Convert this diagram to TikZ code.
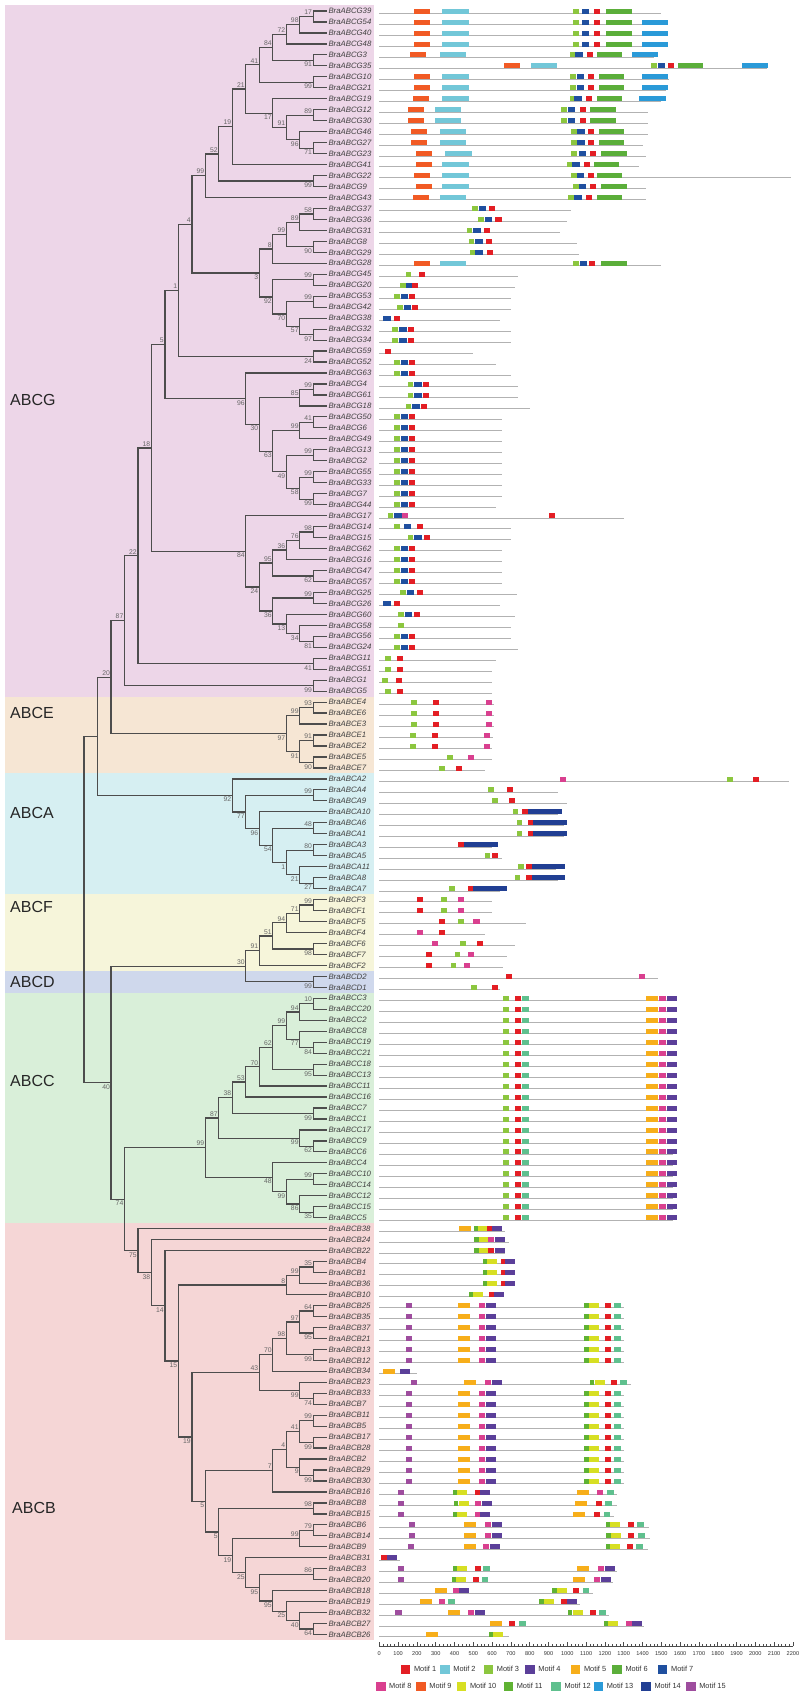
\documentclass[tikz,border=0pt]{standalone}
\usepackage{fontspec}
\setmainfont{Liberation Sans}
\usetikzlibrary{calc}
\definecolor{c1}{HTML}{E31E24}
\definecolor{c2}{HTML}{72C7D8}
\definecolor{c3}{HTML}{8CC63F}
\definecolor{c4}{HTML}{5B3F99}
\definecolor{c5}{HTML}{F7AE1A}
\definecolor{c6}{HTML}{5BAE3A}
\definecolor{c7}{HTML}{1F4F9F}
\definecolor{c8}{HTML}{D9408F}
\definecolor{c9}{HTML}{F15A24}
\definecolor{c10}{HTML}{D7DF23}
\definecolor{c11}{HTML}{5FB233}
\definecolor{c12}{HTML}{5FC08E}
\definecolor{c13}{HTML}{2A9AD8}
\definecolor{c14}{HTML}{213F93}
\definecolor{c15}{HTML}{9E4D9E}
\definecolor{bG}{HTML}{EDD6E8}
\definecolor{bE}{HTML}{F6E6D4}
\definecolor{bA}{HTML}{D6EFF2}
\definecolor{bF}{HTML}{F6F5DA}
\definecolor{bD}{HTML}{CFD8EC}
\definecolor{bC}{HTML}{D9EFD9}
\definecolor{bB}{HTML}{F5D6D6}
\definecolor{brc}{HTML}{4D4D4D}
\definecolor{bsc}{HTML}{666666}
\def\LX{326.7}
\def\ST{13.48}
\def\MX{379.3}
\def\K{0.188}
\expandafter\def\csname w1\endcsname{32}
\expandafter\def\csname w2\endcsname{140}
\expandafter\def\csname w3\endcsname{30}
\expandafter\def\csname w4\endcsname{53}
\expandafter\def\csname w5\endcsname{64}
\expandafter\def\csname w6\endcsname{135}
\expandafter\def\csname w7\endcsname{40}
\expandafter\def\csname w8\endcsname{33}
\expandafter\def\csname w9\endcsname{85}
\expandafter\def\csname w10\endcsname{53}
\expandafter\def\csname w11\endcsname{24}
\expandafter\def\csname w12\endcsname{35}
\expandafter\def\csname w13\endcsname{140}
\expandafter\def\csname w14\endcsname{180}
\expandafter\def\csname w15\endcsname{33}
\tikzset{
  declare function={ry(\i)=11+10.97*\i;},
  br/.style={draw=brc,line width=1.2pt},
  bsa/.style={anchor=south east,inner sep=0pt,xshift=-1pt,yshift=1.6pt,font=\fontsize{6.8}{7}\selectfont,text=bsc},
  bsb/.style={anchor=north east,inner sep=0pt,xshift=-1pt,yshift=-1.6pt,font=\fontsize{6.8}{7}\selectfont,text=bsc},
  leaf/.style={anchor=west,inner sep=0pt,font=\fontsize{7.8}{8}\selectfont\itshape,text=black!75},
  grp/.style={anchor=west,inner sep=0pt,font=\fontsize{16}{18}\selectfont,text=black!85},
  mline/.style={draw=black!30,line width=1pt},
  lg/.style={anchor=west,inner sep=0pt,font=\fontsize{7.4}{8}\selectfont,text=black!80},
  ax/.style={inner sep=0pt,font=\fontsize{5.6}{6}\selectfont,text=black!80},
}
\newcommand\brn[6]{%
  \path let \p1=(#3), \p2=(#4) in coordinate (#1) at ({(\LX-#2*\ST)*1pt},{0.5*\y1+0.5*\y2});
  \draw[br] (#3) -| (#1) |- (#4);
  \node[#6] (#1l) at (#1) {#5};
}
\newcommand\mrow[3]{%
  \draw[mline] (\MX,{ry(#1)+2.4}) -- ++({#2*\K},0);
  \foreach \m/\s in {#3}{\fill[fill=c\m] ({\MX+\s*\K},{ry(#1)-2.4}) rectangle ++({\csname w\m\endcsname*\K},5);}
}
\begin{document}
\begin{tikzpicture}[x=1pt,y=-1pt]
\useasboundingbox (0,0) rectangle (804,1696);
\fill[white] (0,0) rectangle (804,1696);
% bands
\fill[bG] (5,5) rectangle (374,696.6);
\fill[bE] (5,696.6) rectangle (374,773.4);
\fill[bA] (5,773.4) rectangle (374,894.1);
\fill[bF] (5,894.1) rectangle (374,970.9);
\fill[bD] (5,970.9) rectangle (374,992.8);
\fill[bC] (5,992.8) rectangle (374,1223.2);
\fill[bB] (5,1223.2) rectangle (374,1640);
\node[grp] (gG) at (10,400) {ABCG};
\node[grp] (gE) at (10,713) {ABCE};
\node[grp] (gA) at (10,813) {ABCA};
\node[grp] (gF) at (10,907) {ABCF};
\node[grp] (gD) at (10,982) {ABCD};
\node[grp] (gC) at (10,1081) {ABCC};
\node[grp] (gB) at (12,1508) {ABCB};
% leaves
\foreach \i in {0,...,148} \coordinate (L\i) at (\LX,{ry(\i)});
\foreach \i/\t in {0/G39,1/G54,2/G40,3/G48,4/G3,5/G35,6/G10,7/G21,8/G19,9/G12,10/G30,11/G46,12/G27,13/G23,14/G41,15/G22,16/G9,17/G43,18/G37,19/G36,20/G31,21/G8,22/G29,23/G28,24/G45,25/G20,26/G53,27/G42,28/G38,29/G32,30/G34,31/G59,32/G52,33/G63,34/G4,35/G61,36/G18,37/G50,38/G6,39/G49,40/G13,41/G2,42/G55,43/G33,44/G7,45/G44,46/G17,47/G14,48/G15,49/G62,50/G16,51/G47,52/G57,53/G25,54/G26,55/G60,56/G58,57/G56,58/G24,59/G11,60/G51,61/G1,62/G5,63/E4,64/E6,65/E3,66/E1,67/E2,68/E5,69/E7,70/A2,71/A4,72/A9,73/A10,74/A6,75/A1,76/A3,77/A5,78/A11,79/A8,80/A7,81/F3,82/F1,83/F5,84/F4,85/F6,86/F7,87/F2,88/D2,89/D1,90/C3,91/C20,92/C2,93/C8,94/C19,95/C21,96/C18,97/C13,98/C11,99/C16,100/C7,101/C1,102/C17,103/C9,104/C6,105/C4,106/C10,107/C14,108/C12,109/C15,110/C5,111/B38,112/B24,113/B22,114/B4,115/B1,116/B36,117/B10,118/B25,119/B35,120/B37,121/B21,122/B13,123/B12,124/B34,125/B23,126/B33,127/B7,128/B11,129/B5,130/B17,131/B28,132/B2,133/B29,134/B30,135/B16,136/B8,137/B15,138/B6,139/B14,140/B9,141/B31,142/B3,143/B20,144/B18,145/B19,146/B32,147/B27,148/B26}
  \node[leaf] (T\i) at (328.3,{ry(\i)}) {BraABC\t};
% ABCG tree
\brn{g1}{1}{L0}{L1}{17}{bsa}
\brn{g2}{2}{g1}{L2}{98}{bsa}
\brn{g3}{3}{g2}{L3}{72}{bsa}
\brn{g4}{1}{L4}{L5}{91}{bsb}
\brn{g5}{4}{g3}{g4}{84}{bsa}
\brn{g6}{1}{L6}{L7}{99}{bsb}
\brn{g7}{5}{g5}{g6}{41}{bsa}
\brn{g8}{1}{L9}{L10}{89}{bsa}
\brn{g9}{1}{L12}{L13}{71}{bsb}
\brn{g10}{2}{L11}{g9}{96}{bsb}
\brn{g11}{3}{g8}{g10}{91}{bsa}
\brn{g12}{4}{L8}{g11}{17}{bsb}
\brn{g13}{6}{g7}{g12}{21}{bsa}
\brn{g14}{7}{g13}{L14}{19}{bsa}
\brn{g15}{1}{L15}{L16}{99}{bsb}
\brn{g16}{8}{g14}{g15}{52}{bsa}
\brn{g17}{9}{g16}{L17}{99}{bsa}
\brn{g18}{1}{L18}{L19}{58}{bsa}
\brn{g19}{2}{g18}{L20}{89}{bsa}
\brn{g20}{1}{L21}{L22}{90}{bsb}
\brn{g21}{3}{g19}{g20}{99}{bsa}
\brn{g22}{4}{g21}{L23}{8}{bsa}
\brn{g23}{1}{L24}{L25}{99}{bsa}
\brn{g24}{1}{L26}{L27}{99}{bsa}
\brn{g25}{1}{L29}{L30}{97}{bsb}
\brn{g26}{2}{L28}{g25}{57}{bsb}
\brn{g27}{3}{g24}{g26}{70}{bsb}
\brn{g28}{4}{g23}{g27}{92}{bsb}
\brn{g29}{5}{g22}{g28}{3}{bsb}
\brn{g30}{10}{g17}{g29}{4}{bsa}
\brn{g31}{1}{L31}{L32}{24}{bsb}
\brn{g32}{11}{g30}{g31}{1}{bsa}
\brn{g33}{1}{L34}{L35}{99}{bsa}
\brn{g34}{2}{g33}{L36}{85}{bsa}
\brn{g35}{1}{L37}{L38}{41}{bsa}
\brn{g36}{2}{g35}{L39}{99}{bsa}
\brn{g37}{1}{L40}{L41}{99}{bsa}
\brn{g38}{1}{L42}{L43}{99}{bsa}
\brn{g39}{1}{L44}{L45}{99}{bsb}
\brn{g40}{2}{g38}{g39}{58}{bsb}
\brn{g41}{3}{g37}{g40}{49}{bsb}
\brn{g42}{4}{g36}{g41}{63}{bsb}
\brn{g43}{5}{g34}{g42}{30}{bsb}
\brn{g44}{6}{L33}{g43}{96}{bsb}
\brn{g45}{12}{g32}{g44}{5}{bsa}
\brn{g46}{1}{L47}{L48}{98}{bsa}
\brn{g47}{2}{g46}{L49}{76}{bsa}
\brn{g48}{3}{g47}{L50}{36}{bsa}
\brn{g49}{1}{L51}{L52}{62}{bsb}
\brn{g50}{4}{g48}{g49}{95}{bsa}
\brn{g51}{1}{L53}{L54}{99}{bsa}
\brn{g52}{1}{L57}{L58}{81}{bsb}
\brn{g53}{2}{L56}{g52}{34}{bsb}
\brn{g54}{3}{L55}{g53}{13}{bsb}
\brn{g55}{4}{g51}{g54}{36}{bsb}
\brn{g56}{5}{g50}{g55}{24}{bsb}
\brn{g57}{6}{L46}{g56}{84}{bsb}
\brn{g58}{13}{g45}{g57}{18}{bsa}
\brn{g59}{1}{L59}{L60}{41}{bsb}
\brn{g60}{14}{g58}{g59}{22}{bsa}
\brn{g61}{1}{L61}{L62}{99}{bsb}
\brn{g62}{15}{g60}{g61}{87}{bsa}
% ABCE
\brn{e1}{1}{L63}{L64}{93}{bsa}
\brn{e2}{2}{e1}{L65}{99}{bsa}
\brn{e3}{1}{L66}{L67}{91}{bsa}
\brn{e4}{1}{L68}{L69}{90}{bsb}
\brn{e5}{2}{e3}{e4}{91}{bsb}
\brn{e6}{3}{e2}{e5}{97}{bsb}
\brn{g63}{16}{g62}{e6}{20}{bsa}
% ABCA
\brn{a1}{1}{L71}{L72}{99}{bsa}
\brn{a2}{1}{L74}{L75}{48}{bsa}
\brn{a3}{1}{L76}{L77}{80}{bsa}
\brn{a4}{1}{L79}{L80}{27}{bsb}
\brn{a5}{2}{L78}{a4}{21}{bsb}
\brn{a6}{3}{a3}{a5}{1}{bsb}
\brn{a7}{4}{a2}{a6}{54}{bsb}
\brn{a8}{5}{L73}{a7}{96}{bsb}
\brn{a9}{6}{a1}{a8}{77}{bsb}
\brn{a10}{7}{L70}{a9}{92}{bsb}
\brn{r2}{17}{g63}{a10}{}{bsa}
% ABCF / ABCD
\brn{f1}{1}{L81}{L82}{99}{bsa}
\brn{f2}{2}{f1}{L83}{71}{bsa}
\brn{f3}{3}{f2}{L84}{94}{bsa}
\brn{f4}{1}{L85}{L86}{98}{bsb}
\brn{f5}{4}{f3}{f4}{51}{bsa}
\brn{f6}{5}{f5}{L87}{91}{bsa}
\brn{d1}{1}{L88}{L89}{99}{bsb}
\brn{f7}{6}{f6}{d1}{30}{bsa}
% ABCC
\brn{c1}{1}{L90}{L91}{10}{bsa}
\brn{c2}{2}{c1}{L92}{94}{bsa}
\brn{c3}{1}{L94}{L95}{84}{bsb}
\brn{c4}{2}{L93}{c3}{77}{bsb}
\brn{c5}{3}{c2}{c4}{99}{bsa}
\brn{c6}{1}{L96}{L97}{95}{bsb}
\brn{c7}{4}{c5}{c6}{62}{bsa}
\brn{c8}{5}{c7}{L98}{70}{bsa}
\brn{c9}{6}{c8}{L99}{53}{bsa}
\brn{c10}{1}{L100}{L101}{99}{bsb}
\brn{c11}{7}{c9}{c10}{38}{bsa}
\brn{c12}{1}{L103}{L104}{62}{bsb}
\brn{c13}{2}{L102}{c12}{99}{bsb}
\brn{c14}{8}{c11}{c13}{87}{bsa}
\brn{c15}{1}{L106}{L107}{99}{bsa}
\brn{c16}{1}{L109}{L110}{35}{bsb}
\brn{c17}{2}{L108}{c16}{86}{bsb}
\brn{c18}{3}{c15}{c17}{99}{bsb}
\brn{c19}{4}{L105}{c18}{48}{bsb}
\brn{c20}{9}{c14}{c19}{99}{bsa}
% ABCB
\brn{b1}{1}{L114}{L115}{35}{bsa}
\brn{b2}{2}{b1}{L116}{99}{bsa}
\brn{b3}{3}{b2}{L117}{8}{bsa}
\brn{b4}{1}{L118}{L119}{64}{bsa}
\brn{b5}{1}{L120}{L121}{95}{bsb}
\brn{b6}{2}{b4}{b5}{97}{bsa}
\brn{b7}{1}{L122}{L123}{99}{bsb}
\brn{b8}{3}{b6}{b7}{98}{bsa}
\brn{b9}{4}{b8}{L124}{70}{bsa}
\brn{b10}{1}{L126}{L127}{74}{bsb}
\brn{b11}{2}{L125}{b10}{99}{bsb}
\brn{b12}{5}{b9}{b11}{43}{bsa}
\brn{b13}{1}{L128}{L129}{99}{bsa}
\brn{b14}{1}{L130}{L131}{99}{bsb}
\brn{b15}{2}{b13}{b14}{41}{bsa}
\brn{b16}{1}{L133}{L134}{99}{bsb}
\brn{b17}{2}{L132}{b16}{9}{bsb}
\brn{b18}{3}{b15}{b17}{4}{bsa}
\brn{b19}{4}{b18}{L135}{7}{bsa}
\brn{y1}{1}{L136}{L137}{98}{bsa}
\brn{y2}{1}{L138}{L139}{79}{bsa}
\brn{y3}{2}{y2}{L140}{99}{bsa}
\brn{y4}{1}{L142}{L143}{86}{bsa}
\brn{y5}{1}{L147}{L148}{64}{bsb}
\brn{y6}{2}{L146}{y5}{40}{bsb}
\brn{y7}{3}{L145}{y6}{25}{bsb}
\brn{y8}{4}{L144}{y7}{95}{bsb}
\brn{y9}{5}{y4}{y8}{95}{bsb}
\brn{y10}{6}{L141}{y9}{25}{bsb}
\brn{y11}{7}{y3}{y10}{19}{bsb}
\brn{yy}{8}{y1}{y11}{5}{bsb}
\brn{bx}{9}{b19}{yy}{5}{bsb}
\brn{n19}{10}{b12}{bx}{19}{bsb}
\brn{n15}{11}{b3}{n19}{15}{bsb}
\brn{n14}{12}{L113}{n15}{14}{bsb}
\brn{n38}{13}{L112}{n14}{38}{bsb}
\brn{n75}{14}{L111}{n38}{75}{bsb}
\brn{n74}{15}{c20}{n75}{74}{bsb}
\brn{n40}{16}{f7}{n74}{40}{bsb}
\brn{root}{18}{r2}{n40}{}{bsa}
% motifs
\mrow{0}{1500}{9/187,2/335,3/1032,7/1077,1/1140,6/1208}
\mrow{1}{1525}{9/187,2/335,3/1032,7/1077,1/1140,6/1208,13/1395}
\mrow{2}{1525}{9/187,2/335,3/1032,7/1077,1/1140,6/1208,13/1395}
\mrow{3}{1525}{9/187,2/335,3/1032,7/1077,1/1140,6/1208,13/1395}
\mrow{4}{1460}{9/165,2/323,3/1015,7/1043,1/1105,6/1157,13/1345}
\mrow{5}{2060}{9/663,2/805,3/1446,7/1480,1/1536,6/1588,13/1928}
\mrow{6}{1540}{9/187,2/335,3/1015,7/1049,1/1110,6/1168,13/1395}
\mrow{7}{1525}{9/187,2/335,3/1015,7/1049,1/1110,6/1168,13/1395}
\mrow{8}{1500}{9/180,2/335,3/1015,7/1037,1/1100,6/1157,13/1383}
\mrow{9}{1430}{9/153,2/295,3/969,7/1003,1/1066,6/1123}
\mrow{10}{1430}{9/153,2/295,3/969,7/1003,1/1066,6/1123}
\mrow{11}{1430}{9/170,2/323,3/1020,7/1054,1/1110,6/1168}
\mrow{12}{1400}{9/170,2/323,3/1020,7/1054,1/1110,6/1168}
\mrow{13}{1420}{9/193,2/352,3/1020,7/1060,1/1123,6/1180}
\mrow{14}{1380}{9/193,2/335,3/998,7/1026,1/1089,6/1140}
\mrow{15}{2190}{9/187,2/335,3/1020,7/1049,1/1110,6/1157}
\mrow{16}{1420}{9/193,2/335,3/1032,7/1060,1/1123,6/1180}
\mrow{17}{1420}{9/180,2/323,3/1003,7/1037,1/1100,6/1157}
\mrow{18}{1020}{3/493,7/528,1/585}
\mrow{19}{1000}{3/527,7/561,1/618}
\mrow{20}{960}{3/465,7/499,1/556}
\mrow{21}{1050}{3/476,7/510,1/567}
\mrow{22}{1060}{3/482,7/510,1/573}
\mrow{23}{1500}{9/187,2/323,3/1032,7/1066,1/1115,6/1180}
\mrow{24}{740}{3/140,1/210}
\mrow{25}{720}{3/110,7/140,1/175}
\mrow{26}{700}{3/80,7/115,1/160}
\mrow{27}{700}{3/95,7/130,1/175}
\mrow{28}{640}{7/20,1/80}
\mrow{29}{700}{3/70,7/105,1/150}
\mrow{30}{700}{3/70,7/105,1/150}
\mrow{31}{500}{1/30}
\mrow{32}{620}{3/80,7/115,1/160}
\mrow{33}{700}{3/80,7/115,1/160}
\mrow{34}{740}{3/150,7/185,1/230}
\mrow{35}{740}{3/150,7/185,1/230}
\mrow{36}{800}{3/140,7/175,1/220}
\foreach \r in {37,...,44}{\mrow{\r}{650}{3/80,7/115,1/160}}
\mrow{45}{620}{3/80,7/115,1/160}
\mrow{46}{1300}{3/45,7/79,8/119,1/900}
\mrow{47}{700}{3/80,7/130,1/200}
\mrow{48}{700}{3/150,7/185,1/240}
\foreach \r in {49,...,52}{\mrow{\r}{650}{3/80,7/115,1/160}}
\mrow{53}{730}{3/110,7/145,1/200}
\mrow{54}{640}{7/20,1/80}
\mrow{55}{720}{3/100,7/135,1/185}
\mrow{56}{700}{3/100}
\mrow{57}{700}{3/80,7/115,1/160}
\mrow{58}{740}{3/80,7/115,1/160}
\mrow{59}{620}{3/30,1/95}
\mrow{60}{600}{3/30,1/95}
\mrow{61}{600}{3/15,1/90}
\mrow{62}{600}{3/30,1/95}
\foreach \r in {63,...,65}{\mrow{\r}{610}{3/170,1/283,8/567}}
\mrow{66}{605}{3/164,1/278,8/556}
\mrow{67}{600}{3/164,1/278,8/556}
\mrow{68}{600}{3/360,8/470}
\mrow{69}{560}{3/320,1/410}
\mrow{70}{2180}{8/960,3/1850,1/1990}
\mrow{71}{950}{3/580,1/680}
\mrow{72}{1000}{3/600,1/690}
\mrow{73}{950}{3/710,1/760,14/790}
\mrow{74}{980}{3/730,1/790,14/820}
\mrow{75}{980}{3/730,1/790,14/820}
\mrow{76}{600}{1/420,14/450}
\mrow{77}{650}{3/560,1/600}
\mrow{78}{940}{3/740,1/780,14/810}
\mrow{79}{950}{3/720,1/780,14/810}
\mrow{80}{640}{3/370,1/470,14/500}
\mrow{81}{600}{1/200,3/330,8/420}
\mrow{82}{600}{1/200,3/330,8/420}
\mrow{83}{780}{1/320,3/420,8/500}
\mrow{84}{560}{8/200,1/320}
\mrow{85}{720}{8/280,3/430,1/520}
\mrow{86}{680}{1/250,3/400,8/470}
\mrow{87}{660}{1/250,3/380,8/450}
\mrow{88}{1480}{1/675,8/1380}
\mrow{89}{640}{3/490,1/600}
\foreach \r in {90,...,110}{\mrow{\r}{1560}{3/660,1/720,12/760,5/1420,8/1490,4/1530}}
\mrow{111}{669}{5/425,11/505,10/527,1/575,4/600}
\mrow{112}{692}{11/505,10/530,8/577,4/618}
\mrow{113}{669}{11/505,10/530,1/580,4/615}
\mrow{114}{720}{11/550,10/575,1/646,4/669}
\mrow{115}{720}{11/550,10/575,1/646,4/669}
\mrow{116}{720}{11/550,10/575,1/646,4/669}
\mrow{117}{646}{11/476,10/500,1/584,4/610}
\foreach \r in {118,...,123}{\mrow{\r}{1300}{15/140,5/420,8/530,4/570,11/1090,10/1115,1/1200,12/1250}}
\mrow{124}{200}{5/20,4/110}
\mrow{125}{1340}{15/170,5/450,8/560,4/600,11/1120,10/1145,1/1230,12/1280}
\foreach \r in {126,...,134}{\mrow{\r}{1300}{15/140,5/420,8/530,4/570,11/1090,10/1115,1/1200,12/1250}}
\mrow{135}{1266}{15/97,11/392,10/414,1/507,4/538,5/1052,8/1158,12/1213}
\mrow{136}{1266}{15/101,11/397,10/423,8/507,4/545,5/1043,1/1153,12/1202}
\mrow{137}{1248}{15/101,11/392,10/414,8/507,4/538,5/1032,1/1142,12/1193}
\mrow{138}{1433}{15/157,5/452,8/562,4/600,11/1204,10/1228,1/1321,12/1372}
\mrow{139}{1438}{15/157,5/452,8/562,4/600,11/1208,10/1235,1/1325,12/1376}
\mrow{140}{1427}{15/150,5/448,8/553,4/589,11/1204,10/1228,1/1316,12/1367}
\mrow{141}{110}{1/11,4/42}
\mrow{142}{1266}{15/97,11/392,10/414,1/507,12/553,5/1052,8/1164,4/1200}
\mrow{143}{1241}{15/97,11/386,10/408,1/498,12/545,5/1032,8/1142,4/1177}
\mrow{144}{1138}{5/298,8/392,4/423,11/919,10/944,1/1032,12/1083}
\mrow{145}{1065}{5/214,8/318,12/366,11/851,10/875,1/964,4/997}
\mrow{146}{1222}{15/86,5/366,8/472,4/507,11/1003,10/1028,1/1120,12/1169}
\mrow{147}{1409}{5/589,1/692,12/743,11/1195,10/1219,8/1310,4/1343}
\mrow{148}{688}{5/247,11/582,10/606}
% axis
\coordinate (ax0) at (\MX,1646);
\coordinate (ax1) at ({\MX+2200*\K},1646);
\draw[black!70,line width=0.6pt] (ax0) -- (ax1);
\foreach \v in {0,20,...,2200} \draw[black!70,line width=0.5pt] ({\MX+\v*\K},1646) -- ++(0,-1.8);
\foreach \v in {0,100,...,2200} {\draw[black!70,line width=0.6pt] ({\MX+\v*\K},1646) -- ++(0,-4);
  \node[ax] (tk\v) at ({\MX+\v*\K},1653.3) {\v};}
% legend
\foreach \n/\xx in {1/400.8,2/440.2,3/483.7,4/525.2,5/570.8,6/612.3,7/657.9}{
  \fill[fill=c\n] (\xx,1664.8) rectangle ++(9.5,9);
  \node[lg] (lg\n) at (\xx+13,1669.3) {Motif \n};}
\foreach \n/\xx in {8/376,9/416.2,10/456.8,11/503.6,12/551.3,13/593.6,14/641.3,15/686.1}{
  \fill[fill=c\n] (\xx,1681.5) rectangle ++(9.5,9);
  \node[lg] (lg\n) at (\xx+13,1686) {Motif \n};}
\end{tikzpicture}
\end{document}
